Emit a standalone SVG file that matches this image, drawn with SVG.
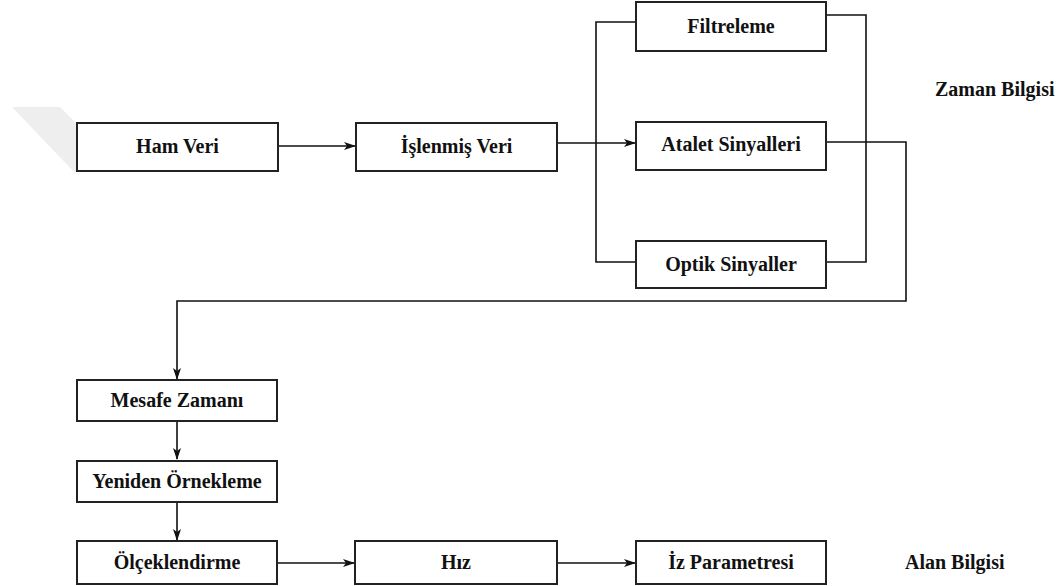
<svg xmlns="http://www.w3.org/2000/svg" width="1057" height="586" viewBox="0 0 1057 586">
<style>
.box{fill:#fff;stroke:#222;stroke-width:2}
text{font-family:'Liberation Serif','Times New Roman','DejaVu Serif',serif;font-weight:700;font-size:20px;fill:#111}
.t{text-anchor:middle}
.c{fill:none;stroke:#111;stroke-width:1.6}
</style>
<defs>
<marker id="ah" markerWidth="12" markerHeight="8" refX="11" refY="4" orient="auto" markerUnits="userSpaceOnUse">
<path d="M0,0 L12,4 L0,8 L3,4 Z" fill="#111"/>
</marker>
</defs>
<rect width="1057" height="586" fill="#fff"/>
<polygon points="12,107 60,107 76,123 76,174" fill="#eeeeee"/>
<g id="connectors">
<path class="c" d="M278,146 H355" marker-end="url(#ah)"/>
<path class="c" d="M557,143 H635" marker-end="url(#ah)"/>
<path class="c" d="M636,22 H596 V262 H636"/>
<path class="c" d="M826,15 H866 V262 H826"/>
<path class="c" d="M826,142 H906 V301 H177 V379" marker-end="url(#ah)"/>
<path class="c" d="M177,421 V459" marker-end="url(#ah)"/>
<path class="c" d="M177,502 V540" marker-end="url(#ah)"/>
<path class="c" d="M277,563 H354" marker-end="url(#ah)"/>
<path class="c" d="M557,563 H635" marker-end="url(#ah)"/>
</g>
<g id="ham"><rect class="box" x="77" y="123" width="201" height="48"/><text class="t" x="177.5" y="153" font-family="Liberation Serif, serif">Ham Veri</text></g>
<g id="islenmis"><rect class="box" x="356" y="123" width="201" height="48"/><text class="t" x="456.5" y="153" font-family="Liberation Serif, serif">İşlenmiş Veri</text></g>
<g id="filtreleme"><rect class="box" x="636" y="2" width="190" height="49"/><text class="t" x="731" y="33" font-family="Liberation Serif, serif">Filtreleme</text></g>
<g id="atalet"><rect class="box" x="636" y="122" width="190" height="48"/><text class="t" x="731" y="151" font-family="Liberation Serif, serif">Atalet Sinyalleri</text></g>
<g id="optik"><rect class="box" x="636" y="241" width="190" height="47"/><text class="t" x="731" y="271" font-family="Liberation Serif, serif">Optik Sinyaller</text></g>
<g id="zaman"><text x="935" y="96" font-family="Liberation Serif, serif" font-size="20.5">Zaman Bilgisi</text></g>
<g id="mesafe"><rect class="box" x="77" y="380" width="200" height="41"/><text class="t" x="177" y="407" font-family="Liberation Serif, serif">Mesafe Zamanı</text></g>
<g id="yeniden"><rect class="box" x="77" y="461" width="200" height="41"/><text class="t" x="177" y="488" font-family="Liberation Serif, serif">Yeniden Örnekleme</text></g>
<g id="olcek"><rect class="box" x="77" y="541" width="200" height="43"/><text class="t" x="177" y="569" font-family="Liberation Serif, serif">Ölçeklendirme</text></g>
<g id="hiz"><rect class="box" x="355" y="541" width="202" height="43"/><text class="t" x="456" y="569" font-family="Liberation Serif, serif">Hız</text></g>
<g id="iz"><rect class="box" x="636" y="541" width="190" height="43"/><text class="t" x="731" y="569" font-family="Liberation Serif, serif">İz Parametresi</text></g>
<g id="alan"><text x="905" y="569" font-family="Liberation Serif, serif">Alan Bilgisi</text></g>
</svg>
